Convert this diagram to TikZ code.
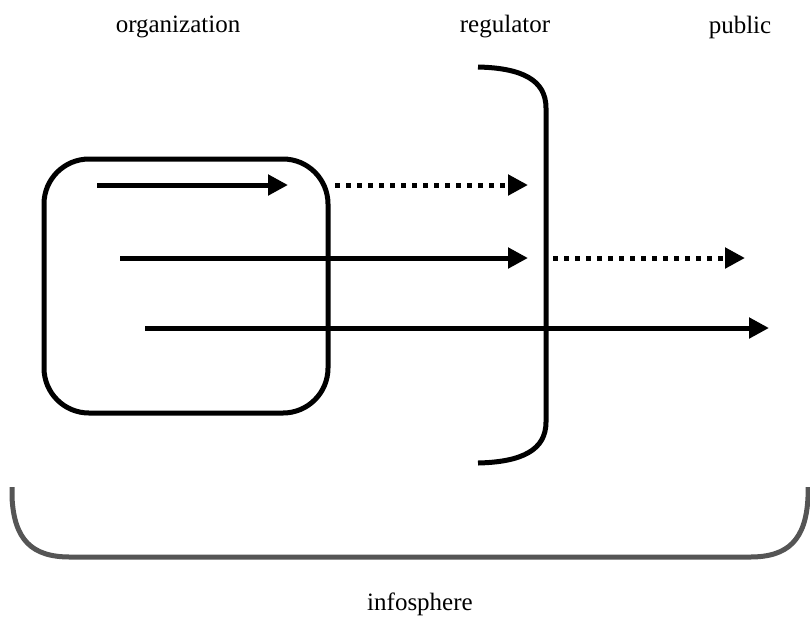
\documentclass[tikz,border=0pt]{standalone}
\usepackage{fontspec}
\setmainfont{Liberation Serif}
\usetikzlibrary{arrows.meta}
\tikzset{
  flow/.style={line width=5pt, -{Triangle[length=20pt,width=20pt]}},
  leak/.style={flow, dash pattern=on 5pt off 6pt},
  party/.style={font=\fontsize{25}{30}\selectfont, inner sep=0pt}
}
\begin{document}
\begin{tikzpicture}[x=1pt,y=-1pt]
      \useasboundingbox (0,0) rectangle (810,625);
      % labels
      \node[party] (organization) at (178,27) {organization};
      \node[party] (regulator) at (505,27) {regulator};
      \node[party] (public) at (740,27) {public};
      \node[party] (infosphere) at (420,604) {infosphere};
      % organization box
      \node[draw, line width=5pt, rounded corners=45pt,
            minimum width=284pt, minimum height=254pt] (org) at (186,286) {};
      % regulator bracket
      \draw[line width=5pt]
        (478,67) .. controls (522,68) and (546,80) .. (546,108)
        -- (546,422) .. controls (546,450) and (522,462) .. (478,463);
      % infosphere bracket
      \draw[line width=5pt, color={rgb,255:red,85;green,85;blue,85}]
        (12,487) -- (12,497) .. controls (14,540) and (32,557) .. (70,557)
        -- (750,557) .. controls (788,557) and (806,540) .. (808,497) -- (808,487);
      % flows
      \coordinate (a0) at (97,185);
      \coordinate (a1) at (288,185);
      \coordinate (a2) at (335,185);
      \coordinate (a3) at (528,185);
      \coordinate (b0) at (120,258);
      \coordinate (b1) at (528,258);
      \coordinate (b2) at (553,258);
      \coordinate (b3) at (745,258);
      \coordinate (c0) at (145,328);
      \coordinate (c1) at (769,328);
      \begin{scope}
        \draw[flow] (a0) to (a1);
        \draw[leak] (a2) to (a3);
        \draw[flow] (b0) to (b1);
        \draw[leak] (b2) to (b3);
        \draw[flow] (c0) to (c1);
      \end{scope}
    \end{tikzpicture}
\end{document}
